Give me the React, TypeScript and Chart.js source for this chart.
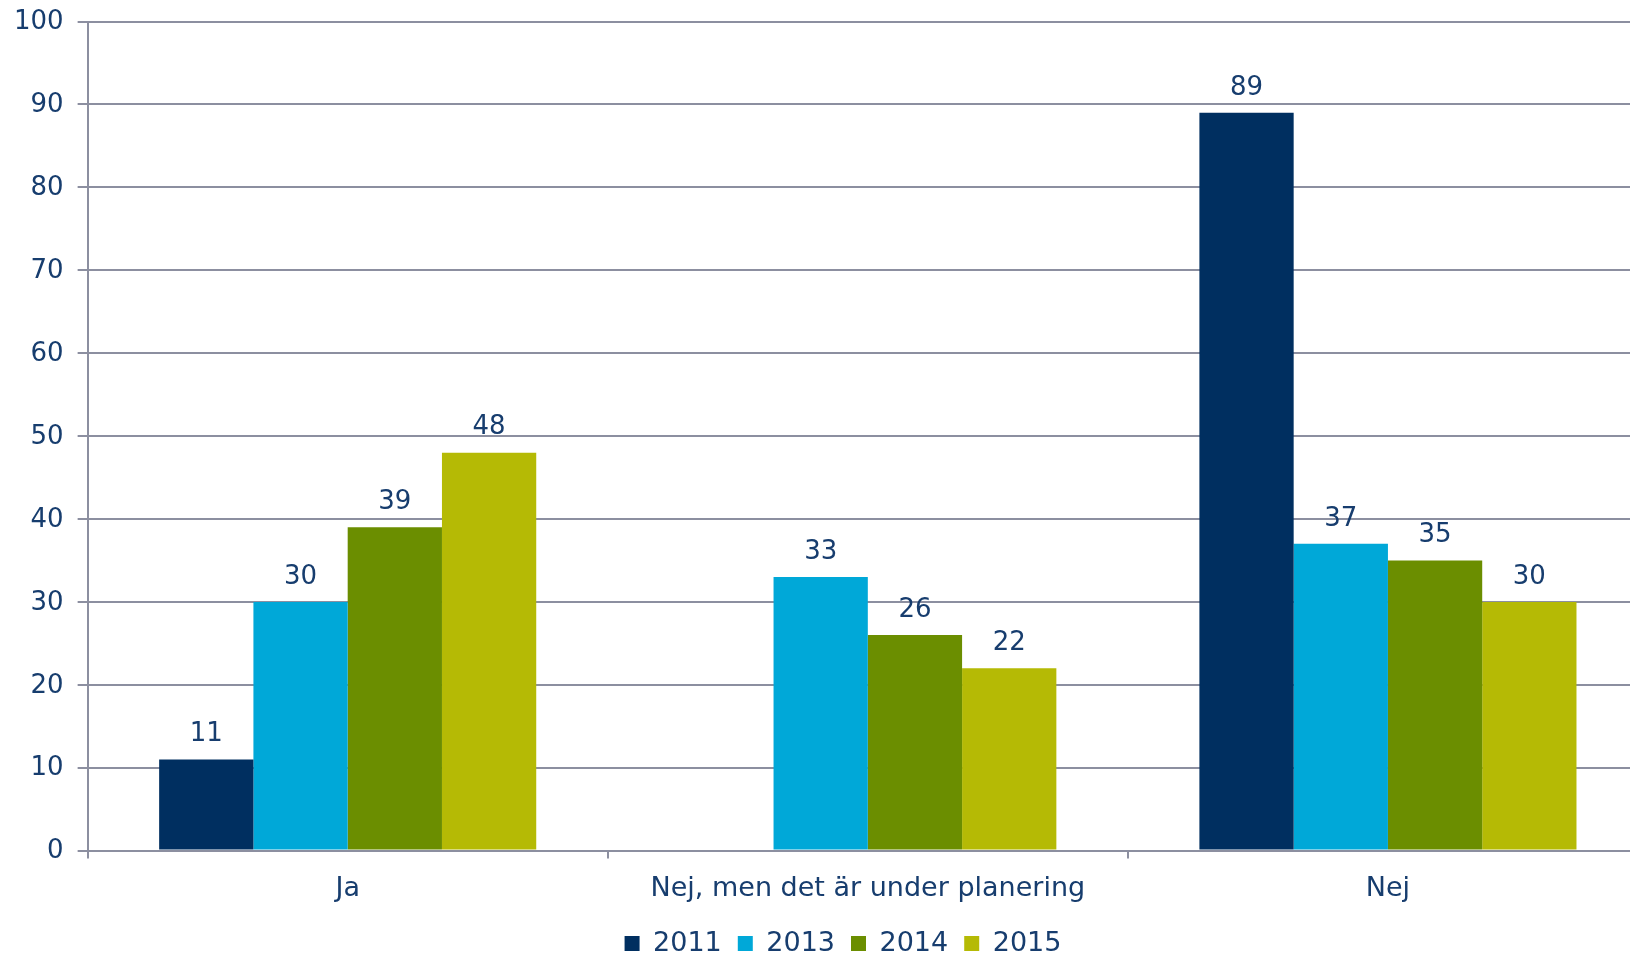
import React, { useEffect, useRef } from "react";
import { Chart, registerables } from "chart.js";

Chart.register(...registerables);

const categories = ["Ja", "Nej, men det är under planering", "Nej"];
const seriesNames = ["2011", "2013", "2014", "2015"];
const values2011 = [11, null, 89];
const values2013 = [30, 33, 37];
const values2014 = [39, 26, 35];
const values2015 = [48, 22, 30];
const seriesColors = ["#002F60", "#00A8D8", "#6B8E00", "#B5BA05"];

const textColor = "#173D6E";
const gridColor = "#8C8FA0";
const fontFamily = '"DejaVu Sans", Verdana, sans-serif';

const valueLabels = {
  id: "valueLabels",
  afterDatasetsDraw(chart: any) {
    const ctx = chart.ctx;
    ctx.save();
    ctx.font = `26px ${fontFamily}`;
    ctx.fillStyle = textColor;
    ctx.textAlign = "center";
    ctx.textBaseline = "middle";
    chart.data.datasets.forEach((ds: any, i: number) => {
      const meta = chart.getDatasetMeta(i);
      meta.data.forEach((el: any, j: number) => {
        const v = ds.data[j];
        if (v === null || v === undefined) return;
        ctx.fillText(String(v), el.x, el.y - 25);
      });
    });
    ctx.restore();
  },
};

const legendShift = {
  id: "legendShift",
  afterLayout(chart: any) {
    const lg = chart.legend;
    if (lg) {
      lg.left += 19;
      lg.right += 19;
      lg.top -= 5;
      lg.bottom -= 5;
    }
  },
};

export default function App() {
  const ref = useRef<HTMLCanvasElement | null>(null);

  useEffect(() => {
    if (!ref.current) return;
    const allValues = [values2011, values2013, values2014, values2015];
    const chart = new Chart(ref.current, {
      type: "bar",
      data: {
        labels: categories,
        datasets: seriesNames.map((name, i) => ({
          label: name,
          data: allValues[i],
          backgroundColor: seriesColors[i],
          borderWidth: 0,
          categoryPercentage: 0.725,
          barPercentage: 1.0,
        })),
      },
      options: {
        responsive: false,
        animation: false,
        layout: { padding: { left: 0, right: 2, top: 0, bottom: 0 } },
        plugins: {
          tooltip: { enabled: false },
          legend: {
            position: "bottom",
            labels: {
              boxWidth: 15,
              boxHeight: 15,
              padding: 16,
              color: textColor,
              font: { family: fontFamily, size: 27 },
            },
          },
        },
        scales: {
          x: {
            offset: true,
            grid: {
              display: true,
              drawOnChartArea: false,
              drawTicks: true,
              tickLength: 8,
              color: gridColor,
              lineWidth: 2,
              offset: true,
            },
            border: { display: true, color: gridColor, width: 2 },
            ticks: {
              color: textColor,
              font: { family: fontFamily, size: 27 },
              padding: 14,
              maxRotation: 0,
              autoSkip: false,
            },
          },
          y: {
            min: 0,
            max: 100,
            ticks: {
              stepSize: 10,
              color: textColor,
              font: { family: fontFamily, size: 26 },
              padding: 14,
              labelOffset: 1,
            },
            grid: {
              color: gridColor,
              lineWidth: 2,
              tickLength: 10,
              drawTicks: true,
            },
            border: { display: true, color: gridColor, width: 2 },
          },
        },
      },
      plugins: [valueLabels, legendShift],
    });
    return () => chart.destroy();
  }, []);

  return (
    <div
      style={{
        position: "fixed",
        left: 0,
        top: 0,
        width: 1630,
        height: 953,
        overflow: "hidden",
        background: "#ffffff",
      }}
    >
      <canvas
        ref={ref}
        width={1650}
        height={980}
        style={{ width: 1650, height: 980, display: "block", marginTop: -8 }}
      />
    </div>
  );
}
